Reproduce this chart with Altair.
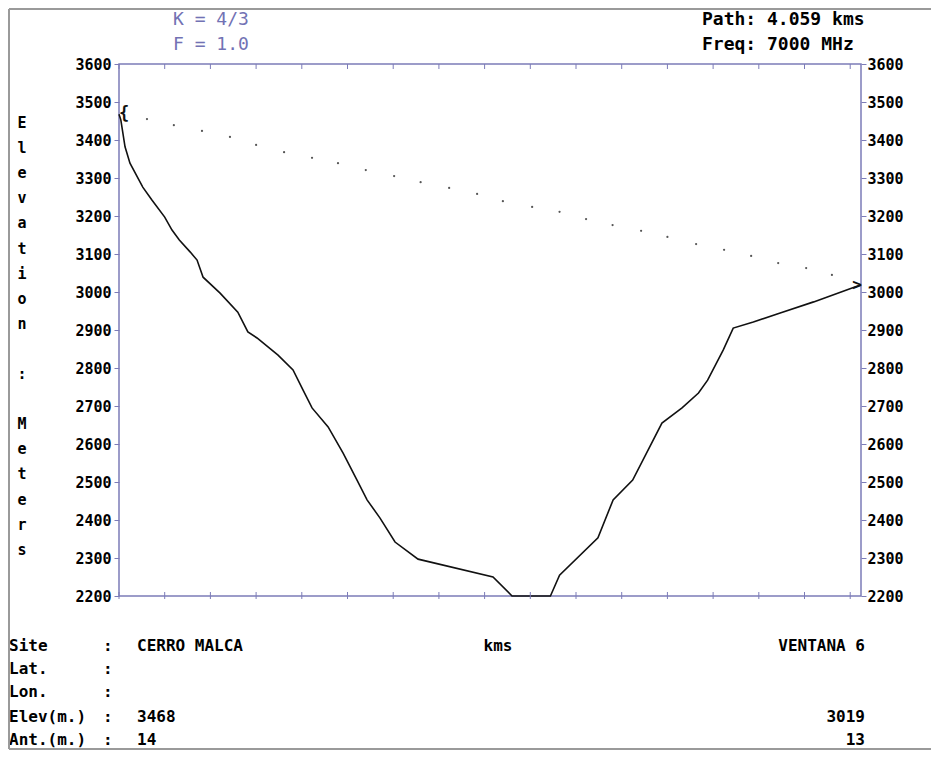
import altair as alt
import pandas as pd

# ---- data ----
path_km = 4.059
elev_a, ant_a = 3468, 14
elev_b, ant_b = 3019, 13

profile_km = [0.00, 0.01, 0.033, 0.06, 0.13, 0.18, 0.25, 0.29, 0.33, 0.39, 0.427,
              0.46, 0.553, 0.65, 0.705, 0.755, 0.87, 0.952, 1.007, 1.056, 1.144,
              1.226, 1.302, 1.357, 1.428, 1.51, 1.636, 2.046, 2.15, 2.36, 2.41,
              2.62, 2.703, 2.81, 2.97, 3.08, 3.17, 3.22, 3.305, 3.36, 3.47, 3.617,
              3.80, 4.059]
profile_m = [3468, 3453, 3382, 3339, 3276, 3242, 3197, 3163, 3137, 3105, 3084,
             3039, 2997, 2947, 2895, 2879, 2834, 2795, 2742, 2695, 2645,
             2576, 2505, 2453, 2405, 2342, 2297, 2250, 2200, 2200, 2255,
             2353, 2453, 2505, 2655, 2695, 2734, 2768, 2847, 2905, 2921, 2945,
             2974, 3019]

los_km = [0.153, 0.30, 0.454, 0.607, 0.75, 0.903, 1.056, 1.198, 1.35, 1.505, 1.65,
          1.806, 1.959, 2.10, 2.26, 2.41, 2.555, 2.70, 2.856, 3.00, 3.157, 3.31,
          3.458, 3.606, 3.759, 3.90]
los_m = [3455, 3439, 3424, 3408, 3387, 3368, 3353, 3339, 3321, 3305, 3289,
         3274, 3258, 3239, 3224, 3211, 3192, 3176, 3161, 3145, 3126, 3111,
         3095, 3076, 3063, 3045]

y_ticks = [2200, 2300, 2400, 2500, 2600, 2700, 2800, 2900, 3000, 3100, 3200,
           3300, 3400, 3500, 3600]
x_labels = [0, 1, 2, 3, 4]
x_minor = [0.0, 0.25, 0.5, 0.75, 1.0, 1.25, 1.5, 1.75, 2.0, 2.25, 2.5, 2.75,
           3.0, 3.25, 3.5, 3.75, 4.0]

k_text = ["K = 4/3", "F = 1.0"]
path_text = ["Path: 4.059 kms", "Freq: 7000 MHz"]
y_title = "Elevation : Meters"
x_title = "kms"
site_labels = ["Site", "Lat.", "Lon.", "Elev(m.)", "Ant.(m.)"]
site_a = ["CERRO MALCA", "", "", "3468", "14"]
site_b = ["VENTANA 6", "", "", "3019", "13"]

# ---- styling ----
W, H = 742, 532
AXC = "#7c7cb8"
MONO = "DejaVu Sans Mono"

xscale = alt.Scale(domain=[0, path_km], nice=False, zero=False)
yscale = alt.Scale(domain=[2200, 3600], nice=False, zero=False)

prof_df = pd.DataFrame({"km": profile_km, "m": profile_m})
los_df = pd.DataFrame({"km": los_km, "m": los_m})
minor_df = pd.DataFrame({"km": x_minor})
one = pd.DataFrame({"a": [0]})

yaxis_common = dict(values=y_ticks, title=None, labelFont=MONO, labelFontWeight="bold",
                    labelFontSize=15, labelColor="black", tickColor=AXC, tickSize=5,
                    tickWidth=1, domain=False, grid=False, format="d")

profile = alt.Chart(prof_df).mark_line(color="#111111", strokeWidth=1.6).encode(
    x=alt.X("km:Q", scale=xscale,
            axis=alt.Axis(values=x_labels, title=None, ticks=False, domain=False, grid=False,
                          labelFont=MONO, labelFontWeight="bold", labelFontSize=13,
                          labelColor="black", labelPadding=3, format="d")),
    y=alt.Y("m:Q", scale=yscale, axis=alt.Axis(orient="left", labelPadding=3, **yaxis_common)),
)

dots = alt.Chart(los_df).mark_circle(color="#555555", size=5, opacity=1).encode(
    x=alt.X("km:Q", scale=xscale, axis=None),
    y=alt.Y("m:Q", scale=yscale, axis=alt.Axis(orient="right", labelPadding=1, **yaxis_common)),
)

ant_left = alt.Chart(pd.DataFrame({"km": [0.0], "m": [elev_a]})).mark_text(
    text="{", align="left", baseline="middle", font=MONO, fontWeight="bold",
    fontSize=17, dx=0, color="#111111").encode(
    x=alt.X("km:Q", scale=xscale, axis=None),
    y=alt.Y("m:Q", scale=yscale, axis=None))

ant_right = alt.Chart(pd.DataFrame({"km": [path_km], "m": [elev_b]})).mark_text(
    text=">", align="right", baseline="middle", font=MONO, fontWeight="bold",
    fontSize=16, dx=1, color="#111111").encode(
    x=alt.X("km:Q", scale=xscale, axis=None),
    y=alt.Y("m:Q", scale=yscale, axis=None))

top_ticks = alt.Chart(minor_df).mark_rule(color=AXC, strokeWidth=1).encode(
    x=alt.X("km:Q", scale=xscale, axis=None), y=alt.value(0), y2=alt.value(5))
bot_ticks = alt.Chart(minor_df).mark_rule(color=AXC, strokeWidth=1).encode(
    x=alt.X("km:Q", scale=xscale, axis=None), y=alt.value(H - 4), y2=alt.value(H + 3))


def txt(text, x, y, align="left", size=16, weight="bold", color="black"):
    return alt.Chart(pd.DataFrame({"t": [text]})).mark_text(
        align=align, baseline="middle", font=MONO, fontSize=size,
        fontWeight=weight, color=color).encode(
        text="t:N", x=alt.value(x), y=alt.value(y))


texts = []
# top-left and top-right header lines
for i, s in enumerate(k_text):
    texts.append(txt(s, 54, -44 + 25 * i, size=18, weight="normal", color="#7272b4"))
for i, s in enumerate(path_text):
    texts.append(txt(s, 583, -44 + 25 * i, size=18))
# vertical y title, one character per line
for i, ch in enumerate(y_title):
    if ch.strip():
        texts.append(txt(ch, -97, 59 + 25.1 * i, align="center", size=15))
# x title
texts.append(txt(x_title, 379, 582, align="center", size=16))
# site block
row_y = [582, 605, 628, 653, 676]
for i in range(len(site_labels)):
    texts.append(txt(site_labels[i], -110, row_y[i]))
    texts.append(txt(":", -16, row_y[i]))
    if site_a[i]:
        texts.append(txt(site_a[i], 18, row_y[i]))
    if site_b[i]:
        texts.append(txt(site_b[i], 746, row_y[i], align="right"))

frame_l = alt.Chart(one).mark_rule(color="#9a9a9a", strokeWidth=2).encode(
    x=alt.value(-110), y=alt.value(-55), y2=alt.value(685))
frame_t = alt.Chart(one).mark_rule(color="#9a9a9a", strokeWidth=2).encode(
    x=alt.value(-110), x2=alt.value(812), y=alt.value(-55))
frame_b = alt.Chart(one).mark_rule(color="#9a9a9a", strokeWidth=2).encode(
    x=alt.value(-110), x2=alt.value(812), y=alt.value(685))

chart = alt.layer(
    profile, dots, ant_left, ant_right, top_ticks, bot_ticks, *texts,
    frame_l, frame_t, frame_b
).resolve_scale(y="independent").properties(
    width=W, height=H, autosize=alt.AutoSizeParams(type="none"),
    padding={"left": 111, "top": 56, "right": 70, "bottom": 154},
    background="white",
).configure_view(stroke=AXC, strokeWidth=1.5)

chart.save("out.html", embed_options={"renderer": "svg", "actions": False})
